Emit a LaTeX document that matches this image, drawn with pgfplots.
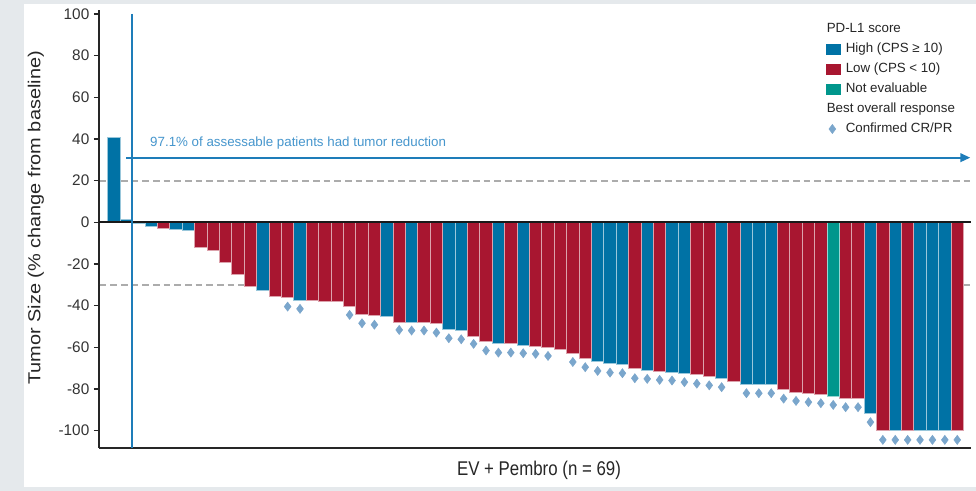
\documentclass[border=0pt]{standalone}
\usepackage{pgfplots}
\pgfplotsset{compat=1.18}
\usepackage{pgfplotstable}
\usepackage{fontspec}
\setmainfont{Liberation Sans}
\usetikzlibrary{arrows.meta}
\definecolor{hiblue}{RGB}{0,114,165}
\definecolor{lored}{RGB}{168,22,48}
\definecolor{nteal}{RGB}{0,150,140}
\definecolor{diam}{RGB}{122,166,204}
\definecolor{lineblue}{RGB}{30,125,185}
\definecolor{textblue}{RGB}{70,150,205}
\definecolor{bggray}{RGB}{229,233,236}
\definecolor{dashgray}{RGB}{172,172,172}

\pgfplotstableread{
x y
1 40.6
2 1.4
3 -0.6
4 -2.1
6 -3.4
7 -3.7
13 -32.5
16 -37.3
23 -45.0
25 -47.9
28 -51.4
29 -52.0
32 -58.3
34 -58.9
40 -66.9
41 -67.9
42 -68.5
44 -71.0
46 -72.0
47 -72.8
50 -74.9
52 -78.0
53 -78.0
54 -78.0
62 -92.0
64 -100
66 -100
67 -100
68 -100
}\bluedata

\pgfplotstableread{
x y
5 -2.9
8 -12.2
9 -13.6
10 -19.1
11 -25.0
12 -30.6
14 -35.7
15 -36.3
17 -37.4
18 -37.8
19 -38.1
20 -40.5
21 -44.2
22 -44.8
24 -47.9
26 -47.9
27 -48.7
30 -54.6
31 -57.1
33 -58.4
35 -59.4
36 -60.0
37 -61.0
38 -62.9
39 -65.5
43 -70.4
45 -71.7
48 -73.3
49 -73.8
51 -76.3
55 -80.5
56 -81.5
57 -82.1
58 -82.6
60 -84.5
61 -84.5
63 -100
65 -100
69 -100
}\reddata

\pgfplotstableread{
x y
59 -83.7
}\tealdata

\pgfplotstableread{
x y
15 -40.5
16 -41.6
20 -44.5
21 -48.5
22 -49.2
24 -51.7
25 -52.0
26 -52.0
27 -53.0
28 -55.7
29 -56.2
30 -58.4
31 -61.6
32 -62.6
33 -62.6
34 -62.9
35 -63.2
36 -64.2
38 -67.1
39 -69.6
40 -71.4
41 -72.2
42 -72.5
43 -74.9
44 -75.2
45 -75.7
46 -76.0
47 -76.8
48 -77.5
49 -78.3
50 -79.2
52 -82.1
53 -82.1
54 -82.1
55 -84.7
56 -85.8
57 -86.4
58 -86.9
59 -87.7
60 -88.8
61 -88.8
62 -96.0
63 -104.5
64 -104.5
65 -104.5
66 -104.5
67 -104.5
68 -104.5
69 -104.5
}\respdata

\begin{document}
\begin{tikzpicture}
\fill[bggray] (0,0) rectangle (732pt,-368.25pt);
\fill[white] (18pt,-3pt) rectangle (732pt,-365.25pt);

\begin{axis}[
  at={(74.25pt,-336pt)}, anchor=south west,
  scale only axis, width=654pt, height=328.5pt,
  xmin=-0.21, xmax=70.11, ymin=-108.4, ymax=101.9,
  axis x line*=bottom, axis y line*=left,
  axis line style={-, line width=1.5pt, draw=black!85},
  xtick=\empty,
  ytick={-100,-80,-60,-40,-20,0,20,40,60,80,100},
  tick align=outside, major tick length=3.75pt,
  tick style={line width=1pt, draw=black!85},
  yticklabel style={font=\fontsize{11.5}{13}\selectfont, text=black!80},
  /pgf/number format/assume math mode=true,
  clip=false,
  legend cell align=left,
  legend style={at={(axis description cs:0.8337,0.9726)}, anchor=north west,
    draw=none, fill=none, inner sep=0pt, outer sep=0pt,
    row sep=4.5pt, column sep=3.75pt,
    font=\fontsize{10}{12}\selectfont, text=black!85,
    nodes={inner sep=0pt, text height=8pt, text depth=2.5pt}},
]
\addlegendimage{empty legend}
\addlegendentry{\hspace*{-14.25pt}PD-L1 score}

\draw[dashgray, line width=1.5pt, dash pattern=on 5pt off 3pt]
  (axis cs:-0.15,20) -- (axis cs:70.11,20);
\draw[dashgray, line width=1.5pt, dash pattern=on 5pt off 3pt]
  (axis cs:-0.15,-30) -- (axis cs:70.11,-30);

\addplot[ybar, bar width=1, bar shift=0pt, fill=hiblue, draw=hiblue!40!white, line width=0.6pt,
  legend image code/.code={\fill[hiblue] (0pt,-3.75pt) rectangle (10.5pt,3.75pt);}]
  table[x=x,y=y]{\bluedata};
\addlegendentry{High (CPS ≥ 10)}
\addplot[ybar, bar width=1, bar shift=0pt, fill=lored, draw=lored!40!white, line width=0.6pt,
  legend image code/.code={\fill[lored] (0pt,-3.75pt) rectangle (10.5pt,3.75pt);}]
  table[x=x,y=y]{\reddata};
\addlegendentry{Low (CPS < 10)}
\addplot[ybar, bar width=1, bar shift=0pt, fill=nteal, draw=nteal!40!white, line width=0.6pt,
  legend image code/.code={\fill[nteal] (0pt,-3.75pt) rectangle (10.5pt,3.75pt);}]
  table[x=x,y=y]{\tealdata};
\addlegendentry{Not evaluable}

\addlegendimage{empty legend}
\addlegendentry{\hspace*{-14.25pt}Best overall response}

\addplot[only marks, mark=diamond*, mark size=3.4pt, color=diam,
  legend image code/.code={\draw[diam, mark=diamond*, mark size=3.4pt, only marks] plot coordinates {(4.5pt,0pt)};}]
  table[x=x,y=y]{\respdata};
\addlegendentry{Confirmed CR/PR}

\draw[black!90, line width=1.5pt] (axis cs:-0.21,0) -- (axis cs:70.11,0);
\draw[lineblue, line width=1.5pt] (axis cs:2.45,100) -- (axis cs:2.45,-108.4);
\draw[lineblue, line width=1.5pt, -{Triangle[length=7.5pt,width=6.5pt]}]
  (axis cs:1.97,31) -- (axis cs:70.05,31);
\node[anchor=west, text=textblue, font=\fontsize{10}{12}\selectfont, inner sep=0pt]
  at (axis cs:3.9,37.8) {97.1\% of assessable patients had tumor reduction};
\end{axis}

\node[rotate=90, text=black!85, font=\fontsize{13}{15}\selectfont, inner sep=0pt]
  at (27pt,-163.5pt) {\scalebox{1.15}[1]{Tumor Size (\% change from baseline)}};
\node[text=black!85, font=\fontsize{13.3}{15}\selectfont, inner sep=0pt]
  at (404.25pt,-352.5pt) {\scalebox{0.95}[1.12]{EV + Pembro (n = 69)}};

\pgfresetboundingbox
\useasboundingbox (0,0) rectangle (732pt,-368.25pt);
\end{tikzpicture}
\end{document}
